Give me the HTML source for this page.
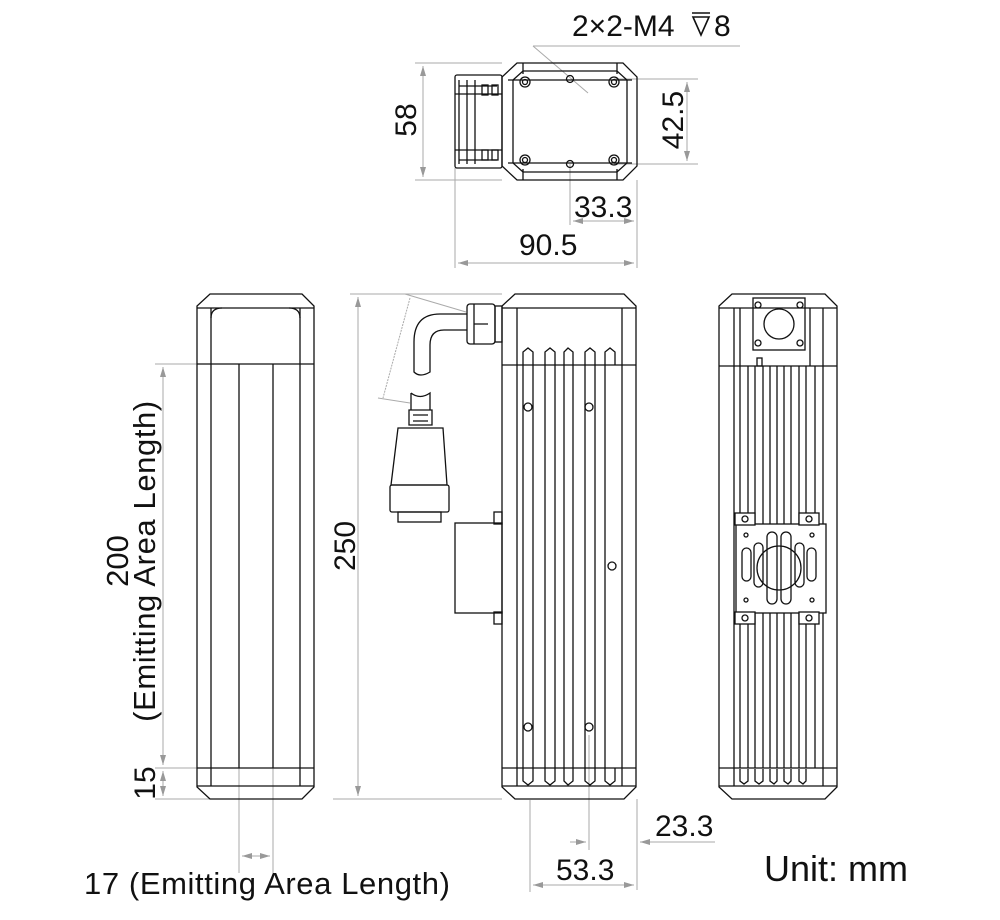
<!DOCTYPE html>
<html><head><meta charset="utf-8"><style>
html,body{margin:0;padding:0;background:#fff}
svg{display:block}
text{font-family:"Liberation Sans",sans-serif;fill:#111}
</style></head><body>
<svg width="1000" height="920" viewBox="0 0 1000 920" xmlns="http://www.w3.org/2000/svg">
<defs>
<marker id="a" viewBox="0 0 10 6" refX="10" refY="3" markerWidth="10" markerHeight="6" orient="auto-start-reverse" markerUnits="userSpaceOnUse"><path d="M0,0L10,3L0,6z" fill="#999"/></marker>
</defs>
<g stroke="#aaa" stroke-width="1" fill="none">
<path d="M533,46H740M533,46L588,93"/>
<path d="M415,63H502M415,180H502"/><path d="M423,66V177" marker-start="url(#a)" marker-end="url(#a)"/>
<path d="M614,79H698M614,164H698"/><path d="M687,82V161" marker-start="url(#a)" marker-end="url(#a)"/>
<path d="M570,164V225M637,180V268M455,168V268"/>
<path d="M573,221H634" marker-start="url(#a)" marker-end="url(#a)"/>
<path d="M458,263H634" marker-start="url(#a)" marker-end="url(#a)"/>
<path d="M350,294H502M333,799H502"/><path d="M358,297V796" marker-start="url(#a)" marker-end="url(#a)"/>
<path d="M155,364H211M155,768H211M155,799H211"/>
<path d="M163,367V765" marker-start="url(#a)" marker-end="url(#a)"/>
<path d="M163,771V796" marker-start="url(#a)" marker-end="url(#a)"/>
<path d="M239,768V873M273,768V873"/><path d="M242,856H270" marker-start="url(#a)" marker-end="url(#a)"/>
<path d="M589,735V850M637,799V890M530,800V892"/>
<path d="M570,842H586" marker-end="url(#a)"/><path d="M640,842H715M655,842H640" marker-end="url(#a)"/>
<path d="M533,885H634" marker-start="url(#a)" marker-end="url(#a)"/>
<path d="M405,294L466,312M378,398L410,403"/>
<path d="M410,298L383,398" stroke-dasharray="2,1"/>
</g>
<g stroke="#111" stroke-width="1.3" fill="none">
<path d="M517,63H623L637,77V166L623,180H517L502,166V77Z"/>
<path d="M523,63V74M617,63V74M523,180V169M617,180V169M508,80H632M508,163H632"/>
<path d="M513,80L523,71H617L627,80V163L617,172H523L513,163Z"/>
<circle cx="525" cy="82" r="5"/><circle cx="525" cy="82" r="2.5"/>
<circle cx="614" cy="82" r="5"/><circle cx="614" cy="82" r="2.5"/>
<circle cx="525" cy="160" r="5"/><circle cx="525" cy="160" r="2.5"/>
<circle cx="614" cy="160" r="5"/><circle cx="614" cy="160" r="2.5"/>
<circle cx="570" cy="79" r="3.5"/><circle cx="570" cy="164" r="3.5"/>
<rect x="455" y="75" width="47" height="93" rx="2"/>
<path d="M459,80V164M467,80V164M475,80V164M459,86H497M459,160H497M455,94H502M455,150H502"/>
<rect x="482" y="85" width="6" height="10"/><rect x="492" y="85" width="6" height="10"/>
<rect x="482" y="150" width="6" height="10"/><rect x="492" y="150" width="6" height="10"/>
<path d="M210,294H302L314,306V787L302,799H210L197,787V306Z"/>
<path d="M197,308H314M197,364H314M197,768H314M197,786H314"/>
<path d="M211,308V786M300,308V786M239,364V768M273,364V768"/>
<path d="M211,318Q211,308 222,308M300,318Q300,308 289,308"/>
<path d="M515,294H624L636,306V787L624,799H515L502,787V306Z"/>
<path d="M502,308H636M502,365H636M502,768H636M502,786H636M517,308V786M622,308V786"/>
<path d="M523,365V768M533,365V768M545,365V768M555,365V768M564,365V768M573,365V768M585,365V768M595,365V768M605,365V768"/>
<path d="M523,365V352L528,348L533,352V365M545,365V352L550,348L555,352V365M564,365V352L568,348L573,352V365M585,365V352L590,348L595,352V365M605,365V352L610,348L615,352V365"/>
<path d="M523,768V781L528,785L533,781V768M545,768V781L550,785L555,781V768M564,768V781L568,785L573,781V768M585,768V781L590,785L595,781V768M605,768V781L610,785L615,781V768"/>
<circle cx="528" cy="407" r="4"/><circle cx="589" cy="407" r="4"/><circle cx="612" cy="566" r="4"/>
<circle cx="528" cy="727" r="4"/><circle cx="589" cy="727" r="4"/>
<rect x="455" y="523" width="47" height="90"/>
<rect x="494" y="512" width="8" height="12"/><rect x="494" y="612" width="8" height="12"/>
<rect x="467" y="304" width="28" height="40" rx="3"/><rect x="495" y="306" width="7" height="36"/>
<path d="M474,304V344M474,324H488"/>
<path d="M467,314H440Q414,314 414,342V372Q420,378 430,372V345Q430,330 444,330H467"/>
<path d="M411,393Q420,400 430,393V410M411,393V410"/>
<path d="M409,410H432V425H409Z M413,415H428M413,421H428"/>
<path d="M398,428H443L447,485H391Z"/>
<rect x="390" y="485" width="59" height="27" rx="2"/>
<rect x="398" y="512" width="43" height="10"/>
<path d="M732,294H825L837,306V787L825,799H732L719,787V306Z"/>
<path d="M719,308H837M719,366H837M719,768H837M719,786H837M734,308V786M823,308V786"/>
<path d="M740,308V366M810,308V366"/>
<rect x="753" y="298" width="52" height="52"/>
<circle cx="779" cy="324" r="15"/>
<circle cx="758" cy="305" r="3"/><circle cx="800" cy="305" r="3"/><circle cx="758" cy="343" r="3"/><circle cx="800" cy="343" r="3"/>
<path d="M740,366V768M748,366V768M755,366V768M763,366V768M770,366V768M777,366V768M784,366V768M791,366V768M799,366V768M806,366V768M815,366V768"/>
<path d="M740,769V781L744,784L748,781V769M755,769V781L759,784L763,781V769M770,769V781L774,784L777,781V769M784,769V781L788,784L791,781V769M799,769V781L803,784L806,781V769"/>
<rect x="757" y="358" width="5" height="8"/>
<rect x="736" y="524" width="90" height="89" fill="#fff"/>
<rect x="735" y="513" width="20" height="12" fill="#fff"/><rect x="799" y="513" width="20" height="12" fill="#fff"/>
<rect x="735" y="612" width="20" height="12" fill="#fff"/><rect x="799" y="612" width="20" height="12" fill="#fff"/>
<circle cx="745" cy="519" r="3"/><circle cx="809" cy="519" r="3"/><circle cx="745" cy="618" r="3"/><circle cx="809" cy="618" r="3"/>
<circle cx="746" cy="535" r="2"/><circle cx="812" cy="535" r="2"/><circle cx="746" cy="600" r="2"/><circle cx="812" cy="600" r="2"/>
<rect x="742" y="548" width="9" height="33" rx="4.5"/><rect x="754" y="543" width="9" height="44" rx="4.5"/>
<rect x="767" y="532" width="10" height="72" rx="5"/><rect x="781" y="532" width="10" height="72" rx="5"/>
<rect x="795" y="543" width="9" height="44" rx="4.5"/><rect x="807" y="548" width="9" height="33" rx="4.5"/>
<circle cx="779" cy="568" r="22"/>
<path d="M692,13H710M693,17L701,35L709,17Z" stroke-width="1.6"/>
</g>
<text x="572" y="36" font-size="30">2×2-M4</text>
<text x="714" y="36" font-size="30">8</text>
<text x="574" y="217" font-size="30">33.3</text>
<text x="519" y="255" font-size="30">90.5</text>
<text font-size="30" transform="translate(416,120) rotate(-90)" text-anchor="middle">58</text>
<text font-size="30" transform="translate(683,120) rotate(-90)" text-anchor="middle">42.5</text>
<text font-size="30" transform="translate(355,546) rotate(-90)" text-anchor="middle">250</text>
<text font-size="31" transform="translate(128,561) rotate(-90)" text-anchor="middle">200</text>
<text font-size="31" transform="translate(155,561) rotate(-90)" text-anchor="middle" letter-spacing="0.6">(Emitting Area Length)</text>
<text font-size="30" transform="translate(155,783) rotate(-90)" text-anchor="middle">15</text>
<text x="84" y="894" font-size="31" letter-spacing="0.6">17 (Emitting Area Length)</text>
<text x="655" y="836" font-size="30">23.3</text>
<text x="556" y="880" font-size="30">53.3</text>
<text x="764" y="881" font-size="36">Unit: mm</text>
</svg>
</body></html>
